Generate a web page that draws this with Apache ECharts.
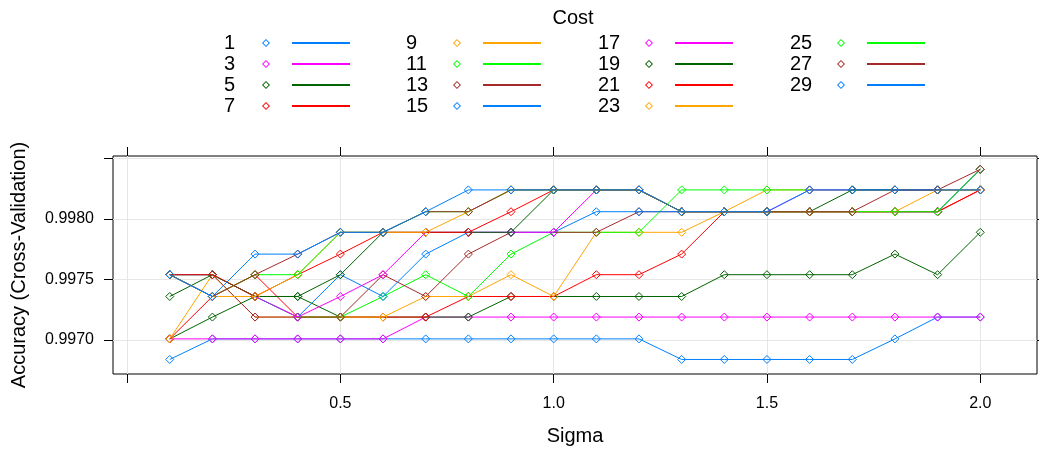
<!DOCTYPE html>
<html>
<head>
<meta charset="utf-8">
<script src="https://cdn.jsdelivr.net/npm/echarts@6/dist/echarts.min.js"></script>
<style>
  html, body { margin: 0; padding: 0; background: #ffffff; }
  #chart { width: 1039px; height: 453px; }
</style>
</head>
<body>
<div id="chart"></div>
<script>
// Sigma grid and cost values of the tuning run
const sigma = [0.1, 0.2, 0.3, 0.4, 0.5, 0.6, 0.7, 0.8, 0.9, 1.0,
               1.1, 1.2, 1.3, 1.4, 1.5, 1.6, 1.7, 1.8, 1.9, 2.0];
const costs = [1, 3, 5, 7, 9, 11, 13, 15, 17, 19, 21, 23, 25, 27, 29];

// Cross-validated accuracy per cost, one value per sigma
const acc1  = [0.99684,0.99701,0.99701,0.99701,0.99701,0.99701,0.99701,0.99701,0.99701,0.99701,0.99701,0.99701,0.99684,0.99684,0.99684,0.99684,0.99684,0.99701,0.99719,0.99719];
const acc3  = [0.99701,0.99701,0.99701,0.99701,0.99701,0.99701,0.99719,0.99719,0.99719,0.99719,0.99719,0.99719,0.99719,0.99719,0.99719,0.99719,0.99719,0.99719,0.99719,0.99719];
const acc5  = [0.99701,0.99719,0.99736,0.99736,0.99719,0.99719,0.99719,0.99719,0.99736,0.99736,0.99736,0.99736,0.99736,0.99754,0.99754,0.99754,0.99754,0.99771,0.99754,0.99789];
const acc7  = [0.99701,0.99736,0.99754,0.99719,0.99719,0.99719,0.99719,0.99736,0.99736,0.99736,0.99754,0.99754,0.99771,0.99806,0.99806,0.99806,0.99806,0.99806,0.99806,0.99824];
const acc9  = [0.99701,0.99754,0.99719,0.99719,0.99719,0.99719,0.99736,0.99736,0.99754,0.99736,0.99789,0.99789,0.99789,0.99806,0.99824,0.99824,0.99824,0.99824,0.99824,0.99824];
const acc11 = [0.99754,0.99754,0.99736,0.99719,0.99719,0.99736,0.99754,0.99736,0.99771,0.99789,0.99789,0.99789,0.99824,0.99824,0.99824,0.99824,0.99824,0.99824,0.99824,0.99824];
const acc13 = [0.99754,0.99754,0.99719,0.99719,0.99719,0.99754,0.99736,0.99771,0.99789,0.99789,0.99789,0.99806,0.99806,0.99806,0.99806,0.99806,0.99806,0.99806,0.99806,0.99841];
const acc15 = [0.99754,0.99754,0.99736,0.99719,0.99754,0.99736,0.99771,0.99789,0.99789,0.99789,0.99806,0.99806,0.99806,0.99806,0.99806,0.99806,0.99806,0.99806,0.99806,0.99841];
const acc17 = [0.99754,0.99736,0.99736,0.99719,0.99736,0.99754,0.99789,0.99789,0.99789,0.99789,0.99824,0.99824,0.99806,0.99806,0.99806,0.99824,0.99824,0.99824,0.99824,0.99824];
const acc19 = [0.99736,0.99754,0.99736,0.99736,0.99754,0.99789,0.99789,0.99789,0.99789,0.99824,0.99824,0.99824,0.99806,0.99806,0.99806,0.99806,0.99824,0.99824,0.99824,0.99824];
const acc21 = [0.99754,0.99754,0.99736,0.99754,0.99771,0.99789,0.99789,0.99789,0.99806,0.99824,0.99824,0.99824,0.99806,0.99806,0.99806,0.99806,0.99806,0.99806,0.99806,0.99824];
const acc23 = [0.99754,0.99736,0.99736,0.99754,0.99789,0.99789,0.99789,0.99806,0.99824,0.99824,0.99824,0.99824,0.99806,0.99806,0.99806,0.99806,0.99806,0.99806,0.99824,0.99824];
const acc25 = [0.99754,0.99736,0.99754,0.99754,0.99789,0.99789,0.99806,0.99806,0.99824,0.99824,0.99824,0.99824,0.99806,0.99806,0.99806,0.99806,0.99806,0.99806,0.99806,0.99841];
const acc27 = [0.99754,0.99736,0.99754,0.99771,0.99789,0.99789,0.99806,0.99806,0.99824,0.99824,0.99824,0.99824,0.99806,0.99806,0.99806,0.99806,0.99806,0.99824,0.99824,0.99841];
const acc29 = [0.99754,0.99736,0.99771,0.99771,0.99789,0.99789,0.99806,0.99824,0.99824,0.99824,0.99824,0.99824,0.99806,0.99806,0.99806,0.99824,0.99824,0.99824,0.99824,0.99824];

// Axis ticks and labels
const xTicks = [0, 0.5, 1.0, 1.5, 2.0];
const xTickLabels = [0.5, 1.0, 1.5, 2.0];
const yTicks = [0.9970, 0.9975, 0.9980, 0.9985];
const yTickLabels = [0.9970, 0.9975, 0.9980];

const accuracy = [acc1, acc3, acc5, acc7, acc9, acc11, acc13, acc15,
                  acc17, acc19, acc21, acc23, acc25, acc27, acc29];

// lattice superpose palette, recycled every seven groups
const palette = ['#0080ff', '#ff00ff', '#006400', '#ff0000', '#ffa500', '#00ff00', '#a52a2a'];
const colorOf = i => palette[i % palette.length];

const FONT = '"Liberation Sans", Arial, sans-serif';

// Legend key: open diamond followed by a short line segment
const keyIcon = 'path://M4,0L8,4L4,8L0,4ZM4,1.3L1.3,4L4,6.7L6.7,4ZM30,3L88,3L88,5L30,5Z';

const legendColumns = [
  { idx: [0, 1, 2, 3],     left: 224, width: 33 },
  { idx: [4, 5, 6, 7],     left: 406, width: 42 },
  { idx: [8, 9, 10, 11],   left: 598, width: 42 },
  { idx: [12, 13, 14],     left: 790, width: 42 }
];

const legends = legendColumns.map(col => ({
  orient: 'vertical',
  left: col.left,
  top: 33,
  padding: 0,
  itemGap: 1,
  itemWidth: 88,
  itemHeight: 8,
  align: 'right',
  icon: keyIcon,
  selectedMode: false,
  formatter: name => '{n|' + name + '}',
  textStyle: {
    color: '#000',
    fontFamily: FONT,
    fontSize: 20,
    rich: { n: { width: col.width, align: 'left', fontSize: 20, lineHeight: 21, fontFamily: FONT, color: '#000' } }
  },
  data: col.idx.map(i => ({
    name: String(costs[i]),
    itemStyle: { color: colorOf(i), borderWidth: 0 }
  }))
}));

const series = costs.map((c, i) => ({
  name: String(c),
  type: 'line',
  data: sigma.map((s, j) => [s, accuracy[i][j]]),
  symbol: 'diamond',
  symbolSize: [8, 8],
  showSymbol: true,
  showAllSymbol: true,
  lineStyle: { color: colorOf(i), width: 1 },
  itemStyle: { color: 'rgba(255,255,255,0)', borderColor: colorOf(i), borderWidth: 1 },
  emphasis: { disabled: true },
  silent: true,
  clip: false
}));

const tickStyle = { show: true, inside: false, length: 9, lineStyle: { color: '#000', width: 1 } };
const hiddenLine = { show: false, onZero: false };

const option = {
  animation: false,
  backgroundColor: '#ffffff',
  textStyle: { fontFamily: FONT },
  title: {
    text: 'Cost',
    left: 573,
    textAlign: 'center',
    top: 8,
    padding: 0,
    textStyle: { fontSize: 20, fontWeight: 'normal', color: '#000', fontFamily: FONT }
  },
  legend: legends,
  grid: {
    left: 113, right: 2, top: 156, bottom: 79,
    show: true, borderColor: '#000', borderWidth: 1, backgroundColor: 'transparent'
  },
  xAxis: [
    {
      type: 'value', position: 'bottom', min: -0.033, max: 2.133,
      name: 'Sigma', nameLocation: 'middle', nameGap: 52,
      nameTextStyle: { fontSize: 20, color: '#000', fontFamily: FONT },
      axisLine: hiddenLine,
      axisTick: Object.assign({ customValues: xTicks }, tickStyle),
      axisLabel: {
        customValues: xTickLabels, margin: 22, fontSize: 16, color: '#000', fontFamily: FONT,
        formatter: v => Number(v).toFixed(1)
      },
      splitLine: { show: true, lineStyle: { color: '#e6e6e6', width: 1 } }
    },
    {
      type: 'value', position: 'top', min: -0.033, max: 2.133,
      axisLine: hiddenLine,
      axisTick: Object.assign({ customValues: xTicks }, tickStyle),
      axisLabel: { show: false },
      splitLine: { show: false }
    }
  ],
  yAxis: [
    {
      type: 'value', position: 'left', min: 0.99672, max: 0.99852,
      name: 'Accuracy (Cross-Validation)', nameLocation: 'middle', nameGap: 84,
      nameTextStyle: { fontSize: 20, color: '#000', fontFamily: FONT },
      axisLine: hiddenLine,
      axisTick: Object.assign({ customValues: yTicks }, tickStyle),
      axisLabel: {
        customValues: yTickLabels, margin: 19, fontSize: 16, color: '#000', fontFamily: FONT,
        formatter: v => Number(v).toFixed(4)
      },
      splitLine: { show: true, lineStyle: { color: '#e6e6e6', width: 1 } }
    },
    {
      type: 'value', position: 'right', min: 0.99672, max: 0.99852,
      axisLine: hiddenLine,
      axisTick: Object.assign({ customValues: yTicks }, tickStyle),
      axisLabel: { show: false },
      splitLine: { show: false }
    }
  ],
  series: series
};

const chart = echarts.init(document.getElementById('chart'), null, { renderer: 'canvas' });
chart.setOption(option);
</script>
</body>
</html>
